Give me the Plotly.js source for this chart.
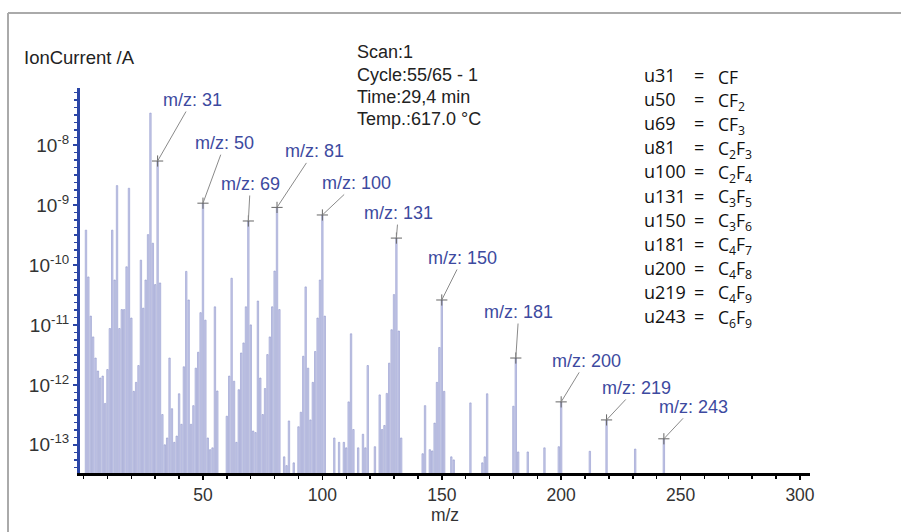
<!DOCTYPE html>
<html><head><meta charset="utf-8">
<script src="https://cdn.plot.ly/plotly-3.0.1.min.js"></script>
<style>html,body{margin:0;padding:0;background:#fff}#chart{width:901px;height:532px}</style>
</head><body><div id="chart"></div>
<script>
// ---- data ----
const massToCharge = [1,2,3,4,5,6,7,8,9,10,11,12,13,14,15,16,17,18,19,20,21,22,23,24,25,26,27,28,29,30,31,32,33,34,35,36,37,38,39,40,41,42,43,44,45,46,47,48,49,50,51,52,53,54,55,56,60,61,62,63,64,65,66,67,68,69,70,71,72,73,74,75,76,77,78,79,80,81,82,84,85,86,88,90,91,92,93,94,95,96,97,98,99,100,101,105,107,109,110,111,112,113,115,117,118,119,122,124,125,126,127,128,129,130,131,132,133,142,143,145,146,147,148,149,150,151,154,155,162,167,168,169,180,181,182,186,193,199,200,212,219,231,243];
const ionCurrent = [3.8e-10,6.3e-11,1.4e-11,6.3e-12,2.8e-12,1.7e-12,1.3e-12,1.4e-12,4.9e-13,1.8e-12,8.7e-12,3.8e-10,5.6e-11,2.1e-9,8.7e-12,1.8e-11,1.8e-11,9.3e-11,1.9e-9,1.3e-11,7.8e-13,1.1e-12,2.1e-12,1.2e-10,1.9e-11,5.6e-11,3.2e-10,3.4e-8,2.3e-10,4.7e-11,5.4e-9,5.0e-11,3.2e-13,1.0e-13,1.3e-13,2.8e-12,4.0e-13,1.1e-13,1.4e-13,7.1e-13,2.2e-13,2.0e-12,7.8e-11,2.6e-11,2.2e-13,4.5e-13,1.9e-12,3.5e-12,1.6e-11,1.07e-9,1.2e-11,1.3e-13,8.3e-14,8.9e-14,2.0e-11,7.9e-13,3.0e-13,1.4e-12,6.0e-11,1.15e-12,1.1e-13,8.3e-13,3.4e-12,5.0e-12,2.0e-11,5.4e-10,1.0e-11,1.7e-13,1.6e-13,2.5e-11,1.3e-12,3.2e-13,8.7e-13,3.2e-12,6.3e-12,2.0e-11,7.9e-11,9.1e-10,1.8e-11,6.3e-14,4.5e-14,2.5e-13,5.0e-14,2.0e-13,3.5e-13,3.0e-12,4.3e-11,1.9e-12,2.6e-13,1.1e-12,3.6e-12,1.3e-11,5.6e-11,6.8e-10,1.4e-11,1.3e-13,1.1e-13,1.1e-13,8.9e-14,5.2e-13,7.1e-12,1.8e-13,8.9e-14,1.5e-13,8.9e-14,2.1e-12,9.3e-14,6.8e-13,1.8e-13,2.1e-13,7.2e-13,2.3e-12,8.3e-12,3.2e-11,2.8e-10,7.9e-12,1.3e-13,7.1e-14,4.5e-13,8.3e-14,7.9e-14,2.3e-13,1.1e-12,4.2e-12,2.6e-11,7.8e-13,6.3e-14,5.6e-14,5.0e-13,5.0e-14,6.3e-14,7.1e-13,4.4e-13,2.8e-12,7.6e-14,7.6e-14,8.9e-14,9.3e-14,5.2e-13,7.8e-14,2.6e-13,8.5e-14,1.26e-13];
const labeledPeaks = [31,50,69,81,100,131,150,181,200,219,243];
const legendIons = ['u31','u50','u69','u81','u100','u131','u150','u181','u200','u219','u243'];
const legendFormulas = ['CF','CF<sub>2</sub>','CF<sub>3</sub>','C<sub>2</sub>F<sub>3</sub>','C<sub>2</sub>F<sub>4</sub>','C<sub>3</sub>F<sub>5</sub>','C<sub>3</sub>F<sub>6</sub>','C<sub>4</sub>F<sub>7</sub>','C<sub>4</sub>F<sub>8</sub>','C<sub>4</sub>F<sub>9</sub>','C<sub>6</sub>F<sub>9</sub>'];
const scanInfo = ['Scan:1','Cycle:55/65 - 1','Time:29,4 min','Temp.:617.0 °C'];
const xTickVals = [50,100,150,200,250,300];
const yTickVals = [1e-13,1e-12,1e-11,1e-10,1e-9,1e-8];
const yTickText = ['10<sup>-13</sup>','10<sup>-12</sup>','10<sup>-11</sup>','10<sup>-10</sup>','10<sup>-9</sup>','10<sup>-8</sup>'];

// ---- layout / style (positions in pixels of the 901x532 figure) ----
const W = 901, H = 532, L = 80, R = 810, T = 88, B = 473;
const px = X => (X - L) / (R - L);
const py = Y => (B - Y) / (B - T);
const labelOffsets = [[35,-61],[22,-60],[2,-37],[37,-56],[34,-32],[2,-25],[21,-42],[3,-46],[25,-41],[30,-32],[30,-32]];
const labelColor = '#3d4aa0';
const axisBlue = '#2a45a6';

const peakY = labeledPeaks.map(m => ionCurrent[massToCharge.indexOf(m)]);

const yMinor = [];
for (let e = -14; e <= -7; e++) for (let k = 1; k < 8; k++) yMinor.push(Math.pow(10, e + k / 8));

const traces = [
  { type: 'bar', x: massToCharge, y: ionCurrent, width: 0.6,
    marker: { color: '#cdd0ec', line: { color: '#8f95cb', width: 0.6 } },
    hoverinfo: 'x+y', showlegend: false },
  { type: 'scatter', mode: 'markers', x: labeledPeaks, y: peakY,
    marker: { symbol: 'cross-thin-open', size: 8, line: { color: '#666', width: 1 }, color: '#666' },
    hoverinfo: 'skip', showlegend: false }
];

const annotations = [];
labeledPeaks.forEach((m, i) => {
  annotations.push({ x: m, y: Math.log10(peakY[i]), xref: 'x', yref: 'y',
    text: 'm/z: ' + m, showarrow: true, arrowhead: 0, arrowwidth: 1, arrowcolor: '#8a8a8a',
    ax: labelOffsets[i][0], ay: labelOffsets[i][1], standoff: 0,
    font: { family: 'Liberation Sans, Arial, sans-serif', size: 18, color: labelColor } });
});
annotations.push({ xref: 'paper', yref: 'paper', x: px(22), y: py(57), xanchor: 'left', yanchor: 'middle',
  text: 'IonCurrent /A', showarrow: false,
  font: { family: 'Liberation Sans, Arial, sans-serif', size: 18.5, color: '#222' } });
scanInfo.forEach((s, i) => {
  annotations.push({ xref: 'paper', yref: 'paper', x: px(355), y: py(52 + 22.5 * i), xanchor: 'left', yanchor: 'middle',
    text: s, showarrow: false, font: { family: 'Liberation Sans, Arial, sans-serif', size: 18, color: '#222' } });
});
legendIons.forEach((u, i) => {
  const Y = 75 + 24.1 * i;
  annotations.push({ xref: 'paper', yref: 'paper', x: px(642), y: py(Y), xanchor: 'left', yanchor: 'middle',
    text: u, showarrow: false, font: { family: 'Open Sans, sans-serif', size: 18, color: '#111' } });
  annotations.push({ xref: 'paper', yref: 'paper', x: px(699), y: py(Y), xanchor: 'center', yanchor: 'middle',
    text: '=', showarrow: false, font: { family: 'Open Sans, sans-serif', size: 18, color: '#111' } });
  annotations.push({ xref: 'paper', yref: 'paper', x: px(716), y: py(Y + 2), xanchor: 'left', yanchor: 'middle',
    text: legendFormulas[i], showarrow: false, font: { family: 'Open Sans, sans-serif', size: 17.5, color: '#111' } });
});

const layout = {
  width: W, height: H,
  margin: { l: L, r: W - R, t: T, b: H - B, pad: 0 },
  paper_bgcolor: '#fff', plot_bgcolor: '#fff',
  bargap: 0, showlegend: false,
  font: { family: 'Liberation Sans, Arial, sans-serif', color: '#333' },
  xaxis: {
    range: [-1.5, 304.2], showgrid: false, zeroline: false,
    showline: true, linecolor: '#000', linewidth: 3,
    tickmode: 'array', tickvals: xTickVals, ticks: 'outside', ticklen: 4, tickwidth: 1.5, tickcolor: '#000',
    tickfont: { size: 17.5, color: '#333' },
    minor: { tickmode: 'linear', tick0: 0, dtick: 10, ticks: 'outside', ticklen: 3, tickwidth: 1.5, tickcolor: '#000' },
    title: { text: 'm/z', font: { size: 17.5, color: '#333' }, standoff: 2 }
  },
  yaxis: {
    type: 'log', range: [-13.47, -7.05], showgrid: false, zeroline: false,
    showline: true, linecolor: axisBlue, linewidth: 3,
    tickmode: 'array', tickvals: yTickVals, ticktext: yTickText,
    ticks: 'outside', ticklen: 4, tickwidth: 2, tickcolor: axisBlue,
    tickfont: { size: 19, color: '#333' },
    minor: { tickmode: 'array', tickvals: yMinor, ticks: 'outside', ticklen: 3, tickwidth: 1.5, tickcolor: axisBlue }
  },
  shapes: [
    { type: 'line', xref: 'paper', yref: 'paper', x0: px(8), x1: px(901), y0: py(13), y1: py(13), line: { color: '#aaa', width: 2 } },
    { type: 'line', xref: 'paper', yref: 'paper', x0: px(8), x1: px(8), y0: py(13), y1: py(532), line: { color: '#aaa', width: 2 } }
  ],
  annotations: annotations
};

Plotly.newPlot('chart', traces, layout, { displayModeBar: false, staticPlot: true });
</script></body></html>
